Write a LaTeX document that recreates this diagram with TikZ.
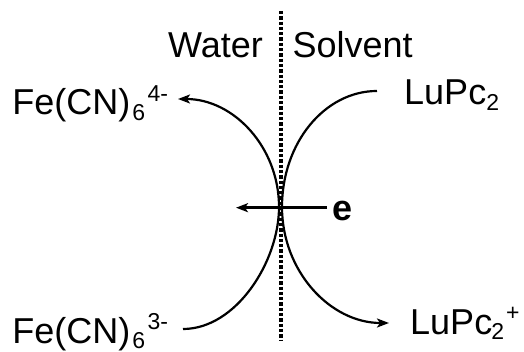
\documentclass[tikz,border=0pt]{standalone}
\usepackage{fontspec}
\setmainfont{Liberation Sans}
\usetikzlibrary{arrows.meta}
\newcommand{\mysub}[1]{\raisebox{-5.5pt}{\fontsize{23}{23}\selectfont #1}}
\newcommand{\mysup}[1]{\raisebox{13.5pt}{\fontsize{23}{23}\selectfont #1}}
\begin{document}
\begin{tikzpicture}[x=1pt,y=-1pt,
  lbl/.style={inner sep=0pt,anchor=base west,font=\fontsize{36}{40}\selectfont},
  curve/.style={line width=2.2pt},
  tip/.style={-{Stealth[length=12pt,width=9pt,inset=3pt]}},
  iface/.style={line width=3.2pt,dash pattern=on 3.3pt off 2pt}]
\useasboundingbox (0,0) rectangle (524,352);
% labels
\node[lbl] (water) at (168,58) {Water};
\node[lbl] (solvent) at (292.3,58) {Solvent};
\node[lbl] (fe4) at (12.2,115) {Fe(CN)\kern2pt\mysub{6}\kern2.5pt\mysup{4-}};
\node[lbl] (fe3) at (12.2,343) {Fe(CN)\kern2pt\mysub{6}\kern2.5pt\mysup{3-}};
\node[lbl] (lupc) at (404,105) {LuPc\mysub{2}};
\node[lbl] (lupcp) at (410,334) {LuPc\kern-1pt\mysub{2}\kern2pt\mysup{+}};
\node[lbl,font=\fontsize{36}{40}\selectfont\bfseries] (e) at (332,221) {e};
% interface
\coordinate (itop) at (281,11);
\coordinate (ibot) at (281,341);
\draw[iface] (itop) -- (ibot);
% curve endpoints
\coordinate (fe3end) at (183,329);
\coordinate (touchL) at (279,207);
\coordinate (fe4end) at (178,99);
\coordinate (lupcend) at (377,91);
\coordinate (touchR) at (282,207);
\coordinate (lupcpend) at (389,323);
\draw[curve,tip] (fe3end) .. controls (236,329) and (279,261.7) .. (touchL)
  .. controls (279,147.4) and (233.8,99) .. (fe4end);
\draw[curve,tip] (lupcend) .. controls (324.6,91) and (282,143) .. (touchR)
  .. controls (282,271) and (330,323) .. (lupcpend);
% electron transfer
\coordinate (etail) at (327,207.7);
\coordinate (ehead) at (236,207.7);
\draw[line width=2.4pt,tip] (etail) -- (ehead);
\end{tikzpicture}
\end{document}
